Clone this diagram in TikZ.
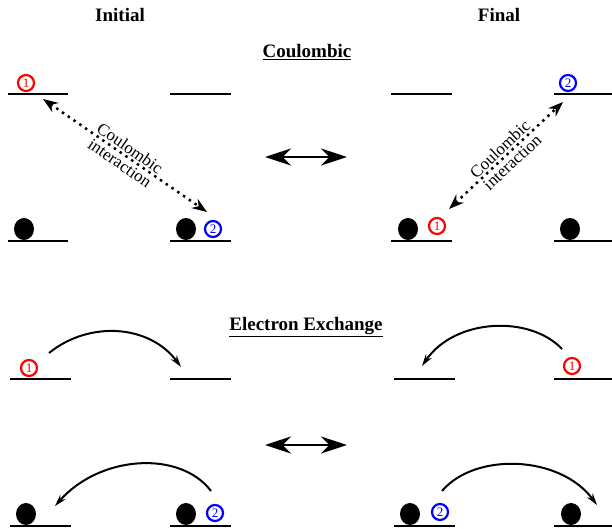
\documentclass[tikz,border=0pt]{standalone}
\usepackage{fontspec}
\setmainfont{Liberation Serif}
\usepackage{tikz}
\usetikzlibrary{arrows.meta, shapes.geometric}

\tikzset{
  level/.style={line width=2.5pt},
  hole/.style={ellipse, fill=black, minimum width=20pt, minimum height=22pt, inner sep=0pt},
  elec/.style={circle, draw=#1, text=#1, line width=2.2pt, minimum size=16pt, inner sep=0pt,
    font=\fontsize{13}{13}\selectfont},
  head/.style={font=\fontsize{19}{22}\selectfont\bfseries},
  lbl/.style={midway, sloped, align=center, font=\fontsize{17}{18}\selectfont},
  coul/.style={line width=2.5pt, dash pattern=on 2.5pt off 4.5pt,
    {Stealth[length=15pt,width=11pt]}-{Stealth[length=15pt,width=11pt]}},
  hop/.style={line width=2pt, -{Stealth[length=12pt,width=7pt]}},
  swap/.style={line width=2.5pt, {Stealth[length=26pt,width=17pt]}-{Stealth[length=26pt,width=17pt]}}
}

\begin{document}
\begin{tikzpicture}[x=1pt, y=-1pt]
  \useasboundingbox (0,0) rectangle (612,529);
  % Headings
  \node[head] (ini) at (120,15) {Initial};
  \node[head] (fin) at (499,15) {Final};
  \node[head] (hC) at (307,52) {\underline{Coulombic}};
  \node[head] (hX) at (306,327) {\underline{Electron Exchange}};
  % Levels
  \foreach \xa/\xb/\yy in {8/68/94, 170/231/94, 8/68/241, 170/231/241,
      391/452/94, 554/612/94, 391/452/241, 554/612/241,
      10/71/379, 170/231/379, 10/71/526, 170/231/526,
      394/455/379, 554/612/379, 394/455/526, 554/612/526}
    \draw[level] (\xa,\yy) -- (\xb,\yy);
  % Holes
  \foreach \xx/\yy [count=\i] in {24/229, 186/229, 408/229, 570/229,
      26/514, 186/514, 410/514, 571/514}
    \node[hole] (h\i) at (\xx,\yy) {};
  % Coulombic electrons
  \node[elec=red] (cI1) at (26,83) {1};
  \node[elec=blue] (cI2) at (213,229) {2};
  \node[elec=red] (cF1) at (437,226) {1};
  \node[elec=blue] (cF2) at (568,83) {2};
  % Exchange electrons
  \node[elec=red] (xI1) at (29,368) {1};
  \node[elec=blue] (xI2) at (215,513) {2};
  \node[elec=red] (xF1) at (572,366) {1};
  \node[elec=blue] (xF2) at (440,512) {2};
  % Coulombic interaction
  \coordinate (cIa) at (43,99);
  \coordinate (cIb) at (207,212);
  \coordinate (cFa) at (449,209);
  \coordinate (cFb) at (563,102);
  \draw[coul] (cIa) -- node[lbl] {Coulombic\\interaction} (cIb);
  \draw[coul] (cFa) -- node[lbl] {Coulombic\\interaction} (cFb);
  % Exchange hops
  \coordinate (xIa) at (49,353);
  \coordinate (xIb) at (181,367);
  \coordinate (xIc) at (211,491);
  \coordinate (xId) at (55,506);
  \coordinate (xFa) at (562,349);
  \coordinate (xFb) at (422,366);
  \coordinate (xFc) at (442,491);
  \coordinate (xFd) at (597,505);
  \draw[hop] (xIa) .. controls (90,320) and (150,325) .. (xIb);
  \draw[hop] (xIc) .. controls (180,450) and (100,455) .. (xId);
  \draw[hop] (xFa) .. controls (530,315) and (455,318) .. (xFb);
  \draw[hop] (xFc) .. controls (475,452) and (560,455) .. (xFd);
  % Initial <-> Final
  \coordinate (sCa) at (265,157);
  \coordinate (sCb) at (347,157);
  \coordinate (sXa) at (265,445);
  \coordinate (sXb) at (347,445);
  \draw[swap] (sCa) -- (sCb);
  \draw[swap] (sXa) -- (sXb);
\end{tikzpicture}
\end{document}
